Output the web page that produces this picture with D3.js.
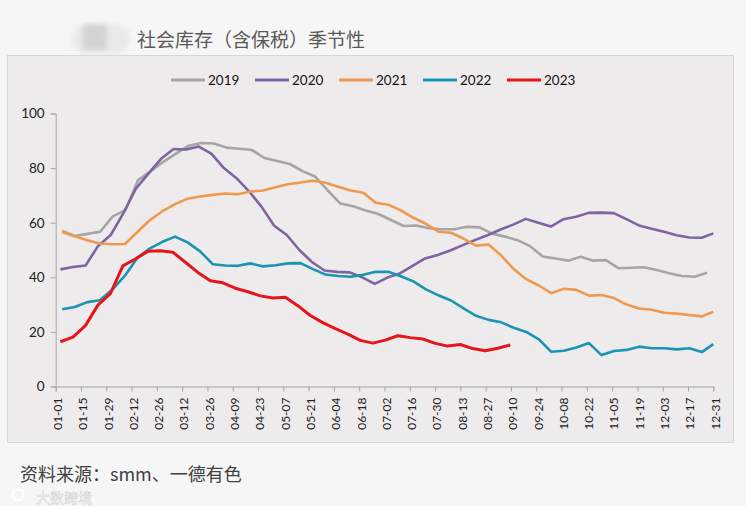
<!DOCTYPE html>
<html>
<head>
<meta charset="utf-8">
<style>
    body {
        margin: 0;
        background: #f6f6f6;
    }
    svg text {
        font-family: Lato, "Noto Sans", sans-serif;
    }
    .cn {
        font-family: "Noto Sans CJK SC", sans-serif !important;
    }
</style>
<script src="https://cdn.jsdelivr.net/npm/d3@7"></script>
</head>
<body>
<svg id="chart" width="746" height="506"></svg>
<script>

// 年份 / 每年第一和最后一个数据日期（周度数据）
let years = ["2019", "2020", "2021", "2022", "2023"];
let firstDates = ["01-04", "01-03", "01-04", "01-04", "01-03"];
let lastDates = ["12-27", "12-31", "12-31", "12-31", "09-09"];
let colors = ["#a5a5a5", "#8064a2", "#f0994e", "#1b94b4", "#e8141b"];

let stock2019 = [57.0, 55.1, 55.9, 56.7, 62.3, 64.6, 75.6, 78.9, 82.3, 85.3,
    88.2, 89.2, 89.0, 87.5, 87.1, 86.6, 83.7, 82.6, 81.5, 78.9,
    76.9, 71.8, 67.0, 66.0, 64.5, 63.2, 61.0, 58.8, 59.0, 58.0,
    57.6, 57.6, 58.5, 58.3, 56.0, 54.9, 53.6, 51.4, 47.6, 46.9,
    46.1, 47.5, 46.1, 46.3, 43.3, 43.5, 43.7, 42.7, 41.5, 40.5,
    40.2, 41.7];
let stock2020 = [42.9, 43.8, 44.3, 51.5, 55.5, 63.4, 72.5, 78.0, 83.4, 87.0,
    86.8, 87.9, 85.3, 80.0, 76.3, 71.5, 65.8, 58.9, 55.5, 50.0,
    45.6, 42.5, 42.0, 41.8, 40.0, 37.6, 39.9, 41.4, 44.2, 46.9,
    48.2, 49.8, 51.8, 53.7, 55.5, 57.5, 59.3, 61.4, 60.0, 58.6,
    61.3, 62.2, 63.6, 63.7, 63.5, 61.3, 59.0, 57.8, 56.7, 55.4,
    54.6, 54.5, 56.1];
let stock2021 = [56.6, 55.0, 53.6, 52.4, 52.1, 52.2, 56.6, 61.0, 64.2, 66.8,
    68.8, 69.6, 70.2, 70.7, 70.4, 71.4, 71.8, 73.0, 74.1, 74.7,
    75.4, 74.6, 73.2, 71.8, 71.0, 67.3, 66.6, 64.5, 61.8, 59.6,
    56.7, 56.3, 54.2, 51.6, 52.0, 48.0, 43.0, 39.3, 37.0, 34.2,
    35.8, 35.4, 33.3, 33.5, 32.4, 30.0, 28.6, 28.1, 27.0, 26.7,
    26.2, 25.7, 27.4];
let stock2022 = [28.3, 29.1, 30.9, 31.6, 35.5, 40.6, 47.2, 50.6, 53.0, 54.9,
    52.8, 49.5, 44.8, 44.3, 44.2, 45.1, 44.0, 44.4, 45.1, 45.2,
    43.0, 41.0, 40.5, 40.2, 40.9, 42.0, 42.0, 40.4, 38.5, 35.6,
    33.4, 31.5, 28.6, 25.9, 24.4, 23.5, 21.5, 20.0, 17.3, 12.7,
    13.1, 14.3, 15.9, 11.5, 13.0, 13.4, 14.6, 14.0, 14.0, 13.6,
    14.0, 12.6, 15.5];
let stock2023 = [16.4, 18.1, 22.3, 29.8, 34.0, 44.2, 46.7, 49.5, 49.7, 49.2,
    45.5, 41.8, 38.7, 38.0, 36.0, 34.7, 33.2, 32.4, 32.7, 29.6,
    26.0, 23.4, 21.2, 19.2, 16.9, 15.9, 17.0, 18.6, 17.9, 17.4,
    15.8, 14.8, 15.4, 13.9, 13.1, 14.0, 15.2];
let allStocks = [stock2019, stock2020, stock2021, stock2022, stock2023];

// x 轴标签（每 14 天一个）
let tickLabels = ["01-01", "01-15", "01-29", "02-12", "02-26", "03-12", "03-26",
    "04-09", "04-23", "05-07", "05-21", "06-04", "06-18", "07-02", "07-16",
    "07-30", "08-13", "08-27", "09-10", "09-24", "10-08", "10-22", "11-05",
    "11-19", "12-03", "12-17", "12-31"];
let yTicks = [0, 20, 40, 60, 80, 100];

let svg = d3.select("#chart");
let parse = d3.timeParse("%Y-%m-%d");
let base = parse("2019-01-01");
function dayOf(md) {
    return d3.timeDay.count(base, parse("2019-" + md));
}

// 把每年的周度数值展开到起止日期之间
function buildSeries(i) {
    let values = allStocks[i];
    let d0 = dayOf(firstDates[i]) + 0.6;
    let d1 = dayOf(lastDates[i]) + 0.6;
    let step = (d1 - d0) / (values.length - 1);
    return values.map((v, k) => ({ day: Math.min(364, d0 + k * step), value: v }));
}

let margin = { left: 55.7, right: 713.3, top: 113.5, bottom: 386.5 };

let x = d3.scaleLinear().domain([0, 364]).range([margin.left, margin.right]);
let y = d3.scaleLinear().domain([0, 100]).range([margin.bottom, margin.top]);

// 模糊的 logo
let defs = svg.append("defs");
defs.append("filter").attr("id", "blur")
    .append("feGaussianBlur").attr("stdDeviation", 2.5);

let logo = svg.append("g").attr("filter", "url(#blur)");
logo.append("rect")
    .attr("x", 72).attr("y", 24).attr("width", 58).attr("height", 30)
    .attr("rx", 15).attr("fill", "#e9e9e9");
logo.append("rect")
    .attr("x", 83).attr("y", 24).attr("width", 24).attr("height", 26)
    .attr("fill", "#d3d3d3");

svg.append("text")
    .attr("class", "cn")
    .attr("x", 137).attr("y", 47)
    .attr("font-size", 19)
    .attr("fill", "#595959")
    .text("社会库存（含保税）季节性");

// 图表框
svg.append("rect")
    .attr("x", 7.5).attr("y", 55.5).attr("width", 726).attr("height", 387)
    .attr("fill", "#edebec")
    .attr("stroke", "#d6d6d6");

// 图例
let legend = svg.append("g").attr("transform", "translate(171,80)");
years.forEach((yr, i) => {
    let g = legend.append("g").attr("transform", `translate(${i * 84},0)`);
    g.append("line")
        .attr("x1", 0).attr("x2", 34).attr("y1", 0).attr("y2", 0)
        .attr("stroke", colors[i]).attr("stroke-width", 3);
    g.append("text")
        .attr("x", 37).attr("y", 0).attr("dy", "0.36em")
        .attr("font-size", 13.5).attr("fill", "#111")
        .text(yr);
});

// 坐标轴
let axisY = d3.axisLeft(y).tickValues(yTicks).tickSize(5).tickPadding(6);
let gy = svg.append("g")
    .attr("transform", `translate(${margin.left},0)`)
    .call(axisY);
gy.selectAll("text").attr("font-size", 13.5).attr("fill", "#222");

let axisX = d3.axisBottom(x)
    .tickValues(tickLabels.map((t, i) => i * 14))
    .tickFormat((d, i) => tickLabels[i])
    .tickSize(5);
let gx = svg.append("g")
    .attr("transform", `translate(0,${margin.bottom})`)
    .call(axisX);
gx.selectAll("text")
    .attr("font-size", 12).attr("fill", "#222")
    .attr("text-anchor", "end")
    .attr("y", 0).attr("x", 0).attr("dy", "0.36em")
    .attr("transform", "translate(1.5,11) rotate(-90)");

[gx, gy].forEach(g => {
    g.select(".domain").attr("stroke", "#a6a6a6");
    g.selectAll(".tick line").attr("stroke", "#a6a6a6");
});

// 折线
let line = d3.line()
    .x(d => x(d.day))
    .y(d => y(d.value));

years.forEach((yr, i) => {
    svg.append("path")
        .datum(buildSeries(i))
        .attr("d", line)
        .attr("fill", "none")
        .attr("stroke", colors[i])
        .attr("stroke-width", i == 4 ? 3 : 2.6)
        .attr("stroke-linejoin", "round");
});

// 资料来源
svg.append("text")
    .attr("class", "cn")
    .attr("x", 20).attr("y", 481)
    .attr("font-size", 18)
    .attr("fill", "#404040")
    .text("资料来源：smm、一德有色");

// 水印
let wm = svg.append("g").attr("opacity", 0.9);
wm.append("circle").attr("cx", 18).attr("cy", 495).attr("r", 5.5)
    .attr("fill", "none").attr("stroke", "#fff").attr("stroke-width", 2);
wm.append("text")
    .attr("class", "cn")
    .attr("x", 36).attr("y", 503)
    .attr("font-size", 14)
    .attr("fill", "#fff")
    .attr("stroke", "#d0d0d0").attr("stroke-width", 0.6)
    .text("大数跨境");

</script>
</body>
</html>
